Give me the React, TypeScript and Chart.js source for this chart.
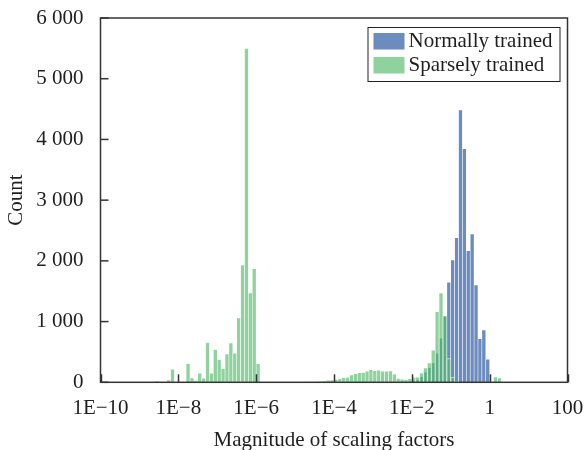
import React, { useEffect, useRef } from 'react';
import { Chart, registerables } from 'chart.js';

Chart.register(...registerables);

// Bin centres as log10(magnitude); bins are 0.1 decade wide
const normallyBins = [-2.25, -2.15, -2.05, -1.95, -1.85, -1.75, -1.65, -1.55, -1.45, -1.35, -1.25, -1.15, -1.05, -0.95, -0.85, -0.75, -0.65, -0.55, -0.45, -0.35, -0.25, -0.15, -0.05];
const normallyCounts = [3, 5, 10, 20, 38, 93, 170, 242, 319, 478, 725, 1080, 1650, 2015, 2383, 4487, 3845, 2168, 2444, 1604, 718, 862, 379];

const sparselyBins = [
  -8.65, -8.55, -8.45, -8.35, -8.25, -8.15,
  -7.85, -7.75, -7.65, -7.55, -7.45, -7.35, -7.25, -7.15, -7.05, -6.95,
  -6.85, -6.75, -6.65, -6.55, -6.45, -6.35, -6.25, -6.15, -6.05, -5.95,
  -4.95, -4.85, -4.75, -4.65, -4.55, -4.45, -4.35, -4.25, -4.15, -4.05,
  -3.95, -3.85, -3.75, -3.65, -3.55, -3.45, -3.35, -3.25, -3.15, -3.05,
  -2.95, -2.85, -2.75, -2.65, -2.55, -2.45, -2.35, -2.25, -2.15, -2.05,
  -1.95, -1.85, -1.75, -1.65, -1.55, -1.45, -1.35, -1.25, -1.15, -1.05,
  -0.95, -0.85, 0.05, 0.15, 0.25,
];
const sparselyCounts = [
  8, 20, 8, 5, 40, 215,
  5, 308, 72, 28, 150, 66, 654, 150, 540, 375,
  224, 466, 648, 478, 1060, 1933, 5500, 1471, 1872, 307,
  3, 5, 8, 10, 10, 12, 16, 20, 33, 40,
  47, 60, 75, 80, 121, 143, 157, 160, 181, 206,
  192, 200, 181, 181, 187, 132, 63, 52, 41, 57,
  82, 82, 154, 236, 319, 527, 1162, 1472, 1098, 390,
  85, 10, 10, 88, 71,
];

const seriesLabels = ['Normally trained', 'Sparsely trained'];
const xTickExponents = [-10, -8, -6, -4, -2, 0, 2];
const xTickLabels = ['1E\u221210', '1E\u22128', '1E\u22126', '1E\u22124', '1E\u22122', '1', '100'];
const yTickValues = [0, 1000, 2000, 3000, 4000, 5000, 6000];
const xTitle = 'Magnitude of scaling factors';
const yTitle = 'Count';

const BLUE = 'rgba(76, 114, 176, 0.82)';
const GREEN = 'rgba(83, 186, 106, 0.65)';
const EDGE = 'rgba(255, 255, 255, 0.75)';
const AXIS = '#333333';
const TEXT = '#1f1f1f';
const FONT = "'Liberation Serif', 'Times New Roman', Times, serif";
const FS = 21;

const framePlugin = {
  id: 'frameAndLegend',
  afterDatasetsDraw(chart: any) {
    const { ctx, chartArea: a, scales } = chart;
    ctx.save();
    ctx.strokeStyle = AXIS;
    ctx.lineWidth = 1.5;
    const xs = scales.x;
    const ys = scales.y;
    xs.ticks.forEach((_t: any, i: number) => {
      const px = Math.round(xs.getPixelForTick(i)) + 0.5;
      ctx.beginPath();
      ctx.moveTo(px, a.bottom);
      ctx.lineTo(px, a.bottom - 8);
      ctx.stroke();
    });
    ys.ticks.forEach((_t: any, i: number) => {
      const py = ys.getPixelForTick(i);
      ctx.beginPath();
      ctx.moveTo(a.left, py);
      ctx.lineTo(a.left + 8, py);
      ctx.stroke();
    });
    ctx.strokeRect(a.left, a.top, a.right - a.left, a.bottom - a.top);
    ctx.restore();
  },
  afterDraw(chart: any) {
    const { ctx, chartArea: a } = chart;
    const ds = chart.data.datasets;
    const bw = 192;
    const bh = 54;
    const bx = a.right - 8 - bw;
    const by = a.top + 9;
    ctx.save();
    ctx.fillStyle = '#ffffff';
    ctx.fillRect(bx, by, bw, bh);
    ctx.strokeStyle = '#222222';
    ctx.lineWidth = 1;
    ctx.strokeRect(bx + 0.5, by + 0.5, bw, bh);
    ctx.font = `${FS}px ${FONT}`;
    ctx.textBaseline = 'middle';
    ctx.textAlign = 'left';
    ds.forEach((d: any, i: number) => {
      const sy = by + 6 + i * 24;
      ctx.fillStyle = d.backgroundColor;
      ctx.fillRect(bx + 6, sy, 31, 16.5);
      ctx.fillStyle = TEXT;
      ctx.fillText(d.label, bx + 41, sy + 8.5);
    });
    ctx.restore();
  },
};

export default function App() {
  const ref = useRef<HTMLCanvasElement>(null);

  useEffect(() => {
    document.body.style.margin = '0';
    const canvas = ref.current;
    if (!canvas) return;
    const chart = new Chart(canvas, {
      type: 'bar',
      data: {
        datasets: [
          {
            label: seriesLabels[0],
            data: normallyBins.map((b, i) => ({ x: b, y: normallyCounts[i] })),
            backgroundColor: BLUE,
            borderColor: EDGE,
            borderWidth: 0.6,
            order: 2,
            grouped: false,
            barPercentage: 1,
            categoryPercentage: 1,
          } as any,
          {
            label: seriesLabels[1],
            data: sparselyBins.map((b, i) => ({ x: b, y: sparselyCounts[i] })),
            backgroundColor: GREEN,
            borderColor: EDGE,
            borderWidth: 0.6,
            order: 1,
            grouped: false,
            barPercentage: 1,
            categoryPercentage: 1,
          } as any,
        ],
      },
      options: {
        animation: false,
        responsive: false,
        devicePixelRatio: 1,
        layout: { padding: { left: 0, right: 17.5, top: 10, bottom: 0 } },
        plugins: {
          legend: { display: false },
          tooltip: { enabled: false },
        },
        scales: {
          x: {
            type: 'linear',
            min: -10,
            max: 2,
            offset: false,
            grid: { display: false, drawTicks: false },
            border: { display: false },
            afterBuildTicks: (scale: any) => {
              scale.ticks = xTickExponents.map((v) => ({ value: v }));
            },
            afterFit: (scale: any) => {
              scale.height = 67.7;
              scale.paddingLeft = 0;
              scale.paddingRight = 0;
            },
            ticks: {
              autoSkip: false,
              maxRotation: 0,
              minRotation: 0,
              padding: 14,
              color: TEXT,
              font: { family: FONT, size: FS },
              callback: (v: any) => {
                const idx = xTickExponents.indexOf(Number(v));
                return idx >= 0 ? xTickLabels[idx] : '';
              },
            },
            title: {
              display: true,
              text: xTitle,
              color: TEXT,
              font: { family: FONT, size: FS },
              padding: { top: 0, bottom: -3 },
            },
          },
          y: {
            type: 'linear',
            min: 0,
            max: 6000,
            grid: { display: false, drawTicks: false },
            border: { display: false },
            afterBuildTicks: (scale: any) => {
              scale.ticks = yTickValues.map((v) => ({ value: v }));
            },
            afterFit: (scale: any) => {
              scale.width = 92.5;
              scale.paddingTop = 0;
              scale.paddingBottom = 0;
            },
            ticks: {
              padding: 17,
              color: TEXT,
              font: { family: FONT, size: FS },
              callback: (v: any) => String(v).replace(/\B(?=(\d{3})+(?!\d))/g, ' '),
            },
            title: {
              display: true,
              text: yTitle,
              color: TEXT,
              font: { family: FONT, size: FS },
              padding: { top: -4.5, bottom: 0 },
            },
          },
        },
      } as any,
      plugins: [framePlugin],
    });
    return () => chart.destroy();
  }, []);

  return (
    <div style={{ padding: '8px 0 0 8px', width: 577, height: 442 }}>
      <canvas ref={ref} width={577} height={442} style={{ display: 'block' }} />
    </div>
  );
}
